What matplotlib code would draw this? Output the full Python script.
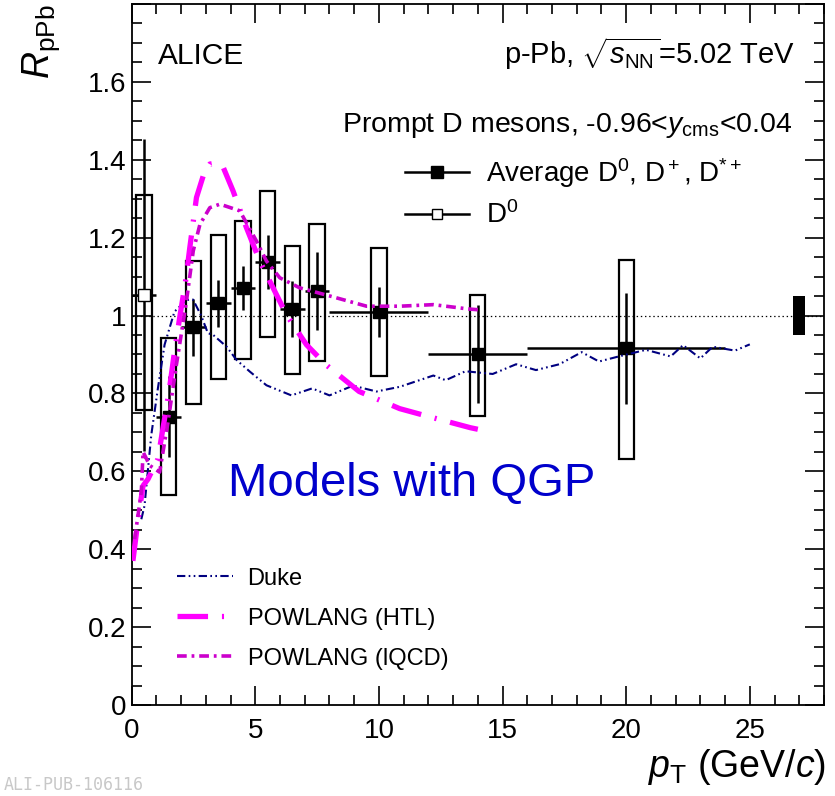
import numpy as np
import matplotlib
matplotlib.use('Agg')
import matplotlib.pyplot as plt
from matplotlib.ticker import MultipleLocator, FuncFormatter
from matplotlib.lines import Line2D

plt.rcParams['font.family'] = ['Liberation Sans', 'DejaVu Sans']
plt.rcParams['mathtext.fontset'] = 'custom'
plt.rcParams['mathtext.rm'] = 'Liberation Sans'
plt.rcParams['mathtext.it'] = 'Liberation Sans:italic'
plt.rcParams['mathtext.bf'] = 'Liberation Sans:bold'
plt.rcParams['lines.scale_dashes'] = False

# average D0, D+, D*+
avg_pt = [1.5, 2.5, 3.5, 4.5, 5.5, 6.5, 7.5, 10, 14, 20]
avg_xerr = [0.5, 0.5, 0.5, 0.5, 0.5, 0.5, 0.5, 2, 2, 4]
avg_r = [0.74, 0.97, 1.031, 1.07, 1.138, 1.017, 1.063, 1.01, 0.901, 0.916]
avg_stat = [0.104, 0.073, 0.06, 0.056, 0.07, 0.073, 0.099, 0.064, 0.126, 0.142]
avg_sys_lo = [0.54, 0.772, 0.838, 0.888, 0.945, 0.851, 0.883, 0.845, 0.742, 0.631]
avg_sys_hi = [0.942, 1.14, 1.208, 1.243, 1.32, 1.179, 1.236, 1.173, 1.054, 1.142]

# D0 lowest bin
d0_pt = [0.5]
d0_xerr = [0.5]
d0_r = [1.053]
d0_stat = [0.40]
d0_sys_lo = [0.757]
d0_sys_hi = [1.309]

# normalisation uncertainty
norm_pt = [27.0]
norm_lo = [0.95]
norm_hi = [1.05]

# models
duke_pt = [0.39, 0.52, 0.79, 1.06, 1.33, 1.73, 2.22, 2.48, 2.81, 3.08, 3.3, 3.84, 4.24,
           4.78, 5.45, 6.46, 7.3, 8.0, 8.95, 9.9, 10.84, 12.2, 12.7, 13.5, 14.6, 15.55,
           16.35, 17.3, 18.2, 18.9, 19.7, 20.8, 21.8, 22.3, 23.0, 23.5, 24.4, 25.0]
duke_r = [0.477, 0.512, 0.692, 0.813, 0.925, 1.01, 1.04, 1.041, 1.0, 0.955, 0.95, 0.92, 0.886,
          0.856, 0.821, 0.795, 0.813, 0.795, 0.82, 0.805, 0.817, 0.846, 0.834, 0.857, 0.85, 0.875,
          0.86, 0.875, 0.906, 0.882, 0.895, 0.912, 0.895, 0.924, 0.89, 0.92, 0.91, 0.926]

htl_pt = [0.05, 0.26, 0.46, 0.66, 1.06, 1.33, 1.53, 1.73, 1.94, 2.2, 2.35, 2.62, 2.9, 3.16,
          3.45, 3.7, 4.1, 4.64, 5.18, 5.72, 6.26, 7.07, 7.87, 9.2, 10.84, 12.05, 13.7, 14.0]
htl_r = [0.37, 0.477, 0.563, 0.58, 0.632, 0.735, 0.813, 0.907, 0.994, 1.097, 1.174, 1.303, 1.36, 1.389,
         1.392, 1.381, 1.32, 1.226, 1.14, 1.071, 1.002, 0.925, 0.873, 0.805, 0.761, 0.74, 0.712, 0.708]

lqcd_pt = [0.12, 0.39, 0.46, 0.73, 1.13, 1.47, 1.8, 2.2, 2.49, 2.76, 3.16, 3.57, 4.37, 5.05,
           5.45, 5.99, 6.8, 7.33, 8.14, 9.5, 10.84, 12.2, 13.6, 14.0]
lqcd_r = [0.426, 0.547, 0.65, 0.615, 0.598, 0.727, 0.87, 1.03, 1.166, 1.234, 1.277, 1.286, 1.269, 1.191,
          1.14, 1.097, 1.071, 1.062, 1.048, 1.024, 1.024, 1.028, 1.017, 1.015]

fig = plt.figure(figsize=(8.35, 7.96), dpi=100)
ax = fig.add_axes([0.1577, 0.1143, 0.8291, 0.8807])

ax.axhline(1, color='k', ls=(0, (1, 2)), lw=0.9, zorder=1)

# systematic boxes
ax.bar(avg_pt, np.subtract(avg_sys_hi, avg_sys_lo), bottom=avg_sys_lo, width=0.62,
       fill=False, edgecolor='k', lw=1.6, zorder=2)
ax.bar(d0_pt, np.subtract(d0_sys_hi, d0_sys_lo), bottom=d0_sys_lo, width=0.62,
       fill=False, edgecolor='k', lw=1.6, zorder=2)
ax.bar(norm_pt, np.subtract(norm_hi, norm_lo), bottom=norm_lo, width=0.5,
       color='k', zorder=2)

ax.errorbar(avg_pt, avg_r, xerr=avg_xerr, yerr=avg_stat, fmt='s', color='k', ms=9,
            elinewidth=1.8, capsize=0, zorder=3)
ax.errorbar(d0_pt, d0_r, xerr=d0_xerr, yerr=d0_stat, fmt='s', color='k', mfc='white',
            ms=8, mew=1.0, elinewidth=1.8, capsize=0, zorder=3)

l_duke, = ax.plot(duke_pt, duke_r, color='#000080', lw=1.5,
                  dashes=(6, 2.4, 1.2, 2.4, 1.2, 2.4), zorder=4)
l_htl, = ax.plot(htl_pt, htl_r, color='#ff00ff', lw=3.8,
                 dashes=(22, 10, 1.5, 10), zorder=4)
l_lqcd, = ax.plot(lqcd_pt, lqcd_r, color='#cc00cc', lw=2.6,
                  dashes=(7, 3.5, 2, 3.5), zorder=4)

ax.set_xlim(0, 28)
ax.set_ylim(0, 1.8)
ax.xaxis.set_major_locator(MultipleLocator(5))
ax.xaxis.set_minor_locator(MultipleLocator(1))
ax.yaxis.set_major_locator(MultipleLocator(0.2))
ax.yaxis.set_minor_locator(MultipleLocator(0.05))
ax.yaxis.set_major_formatter(FuncFormatter(lambda v, p: '' if v > 1.7 else '%g' % round(v, 2)))
ax.tick_params(which='both', direction='in', top=True, right=True, width=1.2, labelsize=20)
ax.tick_params(which='major', length=14)
ax.tick_params(which='minor', length=7)
ax.tick_params(axis='y', pad=4)
ax.tick_params(axis='x', pad=9)
for s in ax.spines.values():
    s.set_linewidth(1.3)

fig.text(0.049, 0.995, r'$R_{\mathrm{pPb}}$', rotation=90, ha='center', va='top', fontsize=27)
fig.text(0.99, 0.024, r'$p_{\mathrm{T}}$ (GeV/$c$)', ha='right', va='baseline', fontsize=27)

ax.text(0.038, 0.915, 'ALICE', transform=ax.transAxes, fontsize=21.5, va='baseline')
ax.text(0.958, 0.915, r'p-Pb, $\sqrt{s_{\mathrm{NN}}}$=5.02 TeV', transform=ax.transAxes,
        fontsize=21, ha='right', va='baseline')
ax.text(0.955, 0.818, r'Prompt D mesons, -0.96<$y_{\mathrm{cms}}$<0.04', transform=ax.transAxes,
        fontsize=20.5, ha='right', va='baseline')
ax.text(0.139, 0.298, 'Models with QGP', transform=ax.transAxes, fontsize=34,
        color='#0000cc', va='baseline')

h_avg = Line2D([], [], color='k', marker='s', ms=8, lw=1.8)
h_d0 = Line2D([], [], color='k', marker='s', ms=7, mfc='white', mew=1.0, lw=1.8)
leg1 = ax.legend([h_avg, h_d0], [r'Average D$^0$, D$^+$, D$^{*+}$', r'D$^0$'],
                 loc='upper left', bbox_to_anchor=(0.395, 0.783), frameon=False,
                 fontsize=20, handlelength=2.3, handletextpad=0.6, labelspacing=0.42,
                 borderpad=0, borderaxespad=0)
ax.add_artist(leg1)
ax.legend([l_duke, l_htl, l_lqcd], ['Duke', 'POWLANG (HTL)', 'POWLANG (lQCD)'],
          loc='upper left', bbox_to_anchor=(0.065, 0.196), frameon=False,
          fontsize=17, handlelength=2.4, handletextpad=0.6, labelspacing=0.76,
          borderpad=0, borderaxespad=0)

fig.text(0.005, 0.003, 'ALI-PUB-106116', fontsize=12, color='#c8c8c8',
         family='DejaVu Sans Mono', va='bottom')

plt.savefig('out.png', dpi=100)
